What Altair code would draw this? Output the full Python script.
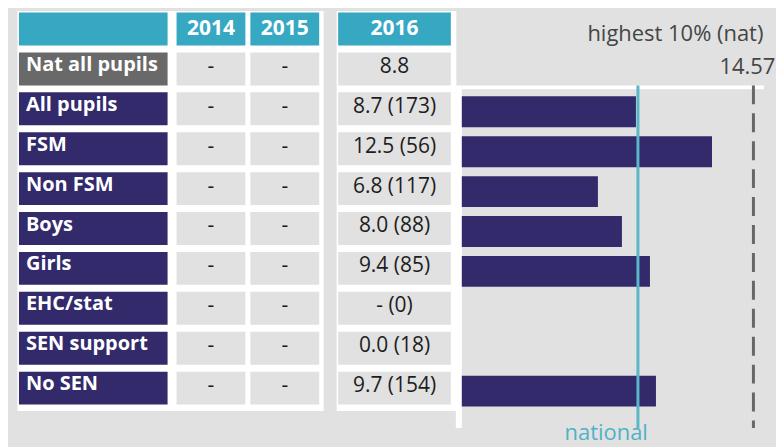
import altair as alt
import pandas as pd

# ---------------- data ----------------
groups = ["Nat all pupils", "All pupils", "FSM", "Non FSM", "Boys", "Girls",
          "EHC/stat", "SEN support", "No SEN"]
year_cols = ["2014", "2015"]
latest_year = "2016"
vals_2014 = ["-", "-", "-", "-", "-", "-", "-", "-", "-"]
vals_2015 = ["-", "-", "-", "-", "-", "-", "-", "-", "-"]
vals_2016 = [8.8, 8.7, 12.5, 6.8, 8.0, 9.4, None, 0.0, 9.7]
counts_2016 = [None, 173, 56, 117, 88, 85, 0, 18, 154]
national_value = 8.8
top10_value = 14.57
top10_title = "highest 10% (nat)"
top10_text = "14.57"
national_label = "national"

# ---------------- styles ----------------
FONT = "Open Sans"
TEAL = "#37a8c2"
NAVY = "#322a6b"
GREY_LABEL = "#696969"
CELL = "#e1e1e1"
BG = "#e1e1e1"
LINE_TEAL = "#5ab6c9"
NAT_TEXT = "#4fb2c7"
DASH = "#676767"
TXT = "#1d1d1d"
NOTE = "#454545"

HEADER = "header"
FOOTER = "footer"
rows = [HEADER] + groups


def fmt2016(v, c):
    vs = "-" if v is None else f"{v:.1f}"
    return vs if c is None else f"{vs} ({c})"


y_table = alt.Y("row:N", scale=alt.Scale(domain=rows, range=[2, 395.01], paddingInner=0.175,
                                          paddingOuter=0, align=0), axis=None)
kind_color = alt.Color("kind:N", scale=alt.Scale(domain=["header", "nat", "group", "body"],
                                                 range=[TEAL, GREY_LABEL, NAVY, CELL]),
                       legend=None)
white_view = alt.ViewBackground(fill="white", stroke="transparent")
clear_view = alt.ViewBackground(fill="transparent", stroke="transparent")

# ---------------- panel A: row labels ----------------
label_df = pd.DataFrame({
    "row": rows,
    "col": "label",
    "kind": ["header", "nat"] + ["group"] * (len(groups) - 1),
    "text": [""] + groups,
})
xa_scale = alt.Scale(domain=["label"], range=[2, 151], paddingInner=0, paddingOuter=0)
a_rect = alt.Chart(label_df).mark_rect().encode(
    y=y_table, x=alt.X("col:N", scale=xa_scale, axis=None), color=kind_color)
a_text = alt.Chart(label_df).mark_text(
    align="left", baseline="alphabetic", dx=7, dy=2, font=FONT, fontSize=20,
    fontWeight="bold", color="white").encode(
    y=y_table, x=alt.X("col:N", bandPosition=0, scale=xa_scale, axis=None), text="text:N")
panel_a = alt.layer(a_rect, a_text).properties(width=156, height=401, view=white_view)


# ---------------- panels B / C: year columns ----------------
def year_panel(df, xscale, width):
    x = alt.X("col:N", scale=xscale, axis=None)
    rect = alt.Chart(df).mark_rect().encode(y=y_table, x=x, color=kind_color)
    head = alt.Chart(df).transform_filter(alt.datum.kind == "header").mark_text(
        baseline="alphabetic", dy=6, font=FONT, fontSize=21, fontWeight="bold",
        color="white").encode(y=y_table, x=x, text="text:N")
    body = alt.Chart(df).transform_filter(alt.datum.kind == "body").mark_text(
        baseline="alphabetic", dy=4, font=FONT, fontSize=21, color=TXT).encode(
        y=y_table, x=x, text="text:N")
    return alt.layer(rect, head, body).properties(width=width, height=401, view=white_view)


yr_records = []
for y, vals in zip(year_cols, [vals_2014, vals_2015]):
    yr_records.append({"row": HEADER, "col": y, "kind": "header", "text": y})
    for g, v in zip(groups, vals):
        yr_records.append({"row": g, "col": y, "kind": "body", "text": v})
panel_b = year_panel(pd.DataFrame(yr_records),
                     alt.Scale(domain=year_cols, range=[4, 147.01], paddingInner=5 / 74,
                               paddingOuter=0, align=0), 151)

latest_records = [{"row": HEADER, "col": latest_year, "kind": "header", "text": latest_year}]
for g, v, c in zip(groups, vals_2016, counts_2016):
    latest_records.append({"row": g, "col": latest_year, "kind": "body", "text": fmt2016(v, c)})
panel_c = year_panel(pd.DataFrame(latest_records),
                     alt.Scale(domain=[latest_year], range=[2, 115], paddingInner=0,
                               paddingOuter=0), 120)

# empty gutter between the two table blocks
gutter = alt.Chart(pd.DataFrame({"row": [HEADER]})).mark_point(opacity=0).encode(
    y=y_table).properties(width=13, height=401, view=clear_view)

# ---------------- panel D: bars ----------------
rows_d = rows + [FOOTER]
y_d_scale = alt.Scale(domain=rows_d, range=[2, 435.01], paddingInner=0.175,
                      paddingOuter=0, align=0)
x_scale = alt.Scale(domain=[0, 15.1], range=[6, 309], nice=False, zero=True)

bar_df = pd.DataFrame({"row": groups[1:], "value": vals_2016[1:]}).dropna()
span_df = pd.DataFrame({"from": [groups[0]], "to": [FOOTER]})
ref_df = pd.DataFrame({"v": [national_value, top10_value], "which": ["national", "top10"],
                       "from": [groups[0], groups[0]], "to": [FOOTER, FOOTER]})

y_from = alt.Y("from:N", bandPosition=1, scale=y_d_scale, axis=None)
y_to = alt.Y2("to:N", bandPosition=0.5)
x_zero = alt.X(datum=0, scale=x_scale, axis=None)

frame_v = alt.Chart(span_df).mark_rule(color="white", strokeWidth=6, xOffset=-3).encode(
    x=x_zero, y=y_from, y2=y_to)
frame_h = alt.Chart(span_df).mark_rule(color="white", strokeWidth=4, yOffset=2).encode(
    x=x_zero, x2=alt.value("width"), y=y_from)
bars = alt.Chart(bar_df).mark_bar(color=NAVY, height=31, yOffset=3).encode(
    x=alt.X("value:Q", scale=x_scale, axis=None),
    y=alt.Y("row:N", scale=y_d_scale, axis=None))
nat_rule = alt.Chart(ref_df).transform_filter(alt.datum.which == "national").mark_rule(
    color=LINE_TEAL, strokeWidth=3).encode(
    x=alt.X("v:Q", scale=x_scale, axis=None), y=y_from, y2=y_to)
top_rule = alt.Chart(ref_df).transform_filter(alt.datum.which == "top10").mark_rule(
    color=DASH, strokeWidth=3, strokeDash=[19, 9]).encode(
    x=alt.X("v:Q", scale=x_scale, axis=None), y=y_from, y2=y_to)

note_df = pd.DataFrame({
    "v": [top10_value, top10_value, national_value],
    "t": [top10_title, top10_text, national_label],
    "row": [HEADER, groups[0], FOOTER],
})
note_x = alt.X("v:Q", scale=x_scale, axis=None)
note_y = alt.Y("row:N", scale=y_d_scale, axis=None)
top_title = alt.Chart(note_df).transform_filter(alt.datum.row == HEADER).mark_text(
    align="right", baseline="alphabetic", dx=10, dy=12, font=FONT, fontSize=22,
    color=NOTE).encode(x=note_x, y=note_y, text="t:N")
top_val = alt.Chart(note_df).transform_filter(alt.datum.row == groups[0]).mark_text(
    align="center", baseline="alphabetic", dx=-6, dy=5, font=FONT, fontSize=22,
    color=NOTE).encode(x=note_x, y=note_y, text="t:N")
nat_text = alt.Chart(note_df).transform_filter(alt.datum.row == FOOTER).mark_text(
    align="right", baseline="alphabetic", dx=10, dy=12, font=FONT, fontSize=22,
    color=NAT_TEXT).encode(x=note_x, y=note_y, text="t:N")

panel_d = alt.layer(frame_v, frame_h, bars, nat_rule, top_rule, top_title, top_val,
                    nat_text).properties(width=309, height=440, view=clear_view)

chart = alt.hconcat(panel_a, panel_b, gutter, panel_c, panel_d, spacing=0, bounds="flush",
                    padding={"left": 8, "top": 0, "right": 0, "bottom": 0},
                    background=BG).configure_view(stroke="transparent")

chart.save("out.html", embed_options={"renderer": "svg", "actions": False})
